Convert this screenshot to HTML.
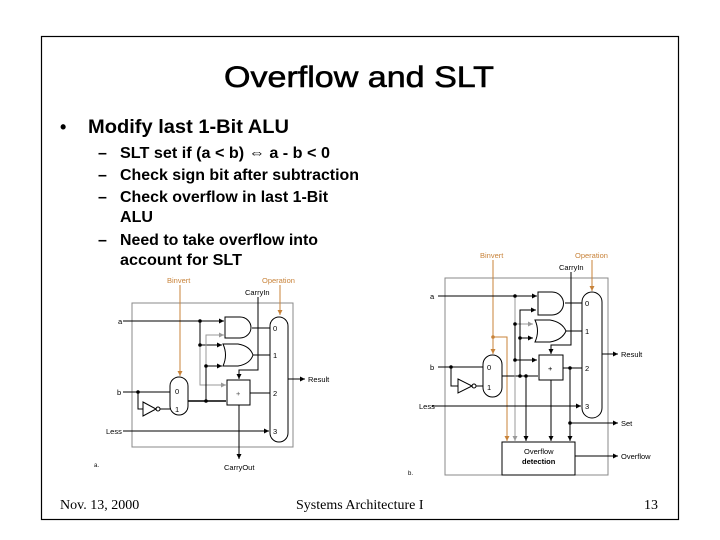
<!DOCTYPE html>
<html><head><meta charset="utf-8"><style>
body{margin:0;background:#fff;}
svg{display:block;}
</style></head><body>
<svg width="720" height="540" viewBox="0 0 720 540" xmlns="http://www.w3.org/2000/svg" font-family="Liberation Sans, sans-serif">
<defs>
<marker id="ar" markerWidth="6" markerHeight="6" refX="5" refY="3" orient="auto"><path d="M0,0.5 L5,3 L0,5.5z" fill="#000"/></marker>
<marker id="ao" markerWidth="6" markerHeight="6" refX="5" refY="3" orient="auto"><path d="M0,0.5 L5,3 L0,5.5z" fill="#c8833a"/></marker>
<marker id="ag" markerWidth="6" markerHeight="6" refX="5" refY="3" orient="auto"><path d="M0,0.5 L5,3 L0,5.5z" fill="#999"/></marker>
</defs>
<rect x="41.5" y="36.5" width="637" height="483" fill="none" stroke="#000" stroke-width="1.2"/>
<text x="224" y="87" font-size="30" textLength="270" lengthAdjust="spacingAndGlyphs" stroke="#000" stroke-width="0.6">Overflow and SLT</text>
<text x="60" y="133" font-size="18" font-weight="bold">•</text>
<text x="88" y="133" font-size="19.5" font-weight="bold" textLength="201" lengthAdjust="spacingAndGlyphs">Modify last 1-Bit ALU</text>
<g font-size="16" font-weight="bold">
<text x="98" y="158">–</text><text x="120" y="158" textLength="210" lengthAdjust="spacingAndGlyphs">SLT set if (a &lt; b) ⇔ a - b &lt; 0</text>
<text x="98" y="180">–</text><text x="120" y="180" textLength="239" lengthAdjust="spacingAndGlyphs">Check sign bit after subtraction</text>
<text x="98" y="202">–</text><text x="120" y="202" textLength="208" lengthAdjust="spacingAndGlyphs">Check overflow in last 1-Bit</text>
<text x="120" y="222" textLength="33" lengthAdjust="spacingAndGlyphs">ALU</text>
<text x="98" y="245">–</text><text x="120" y="245" textLength="198" lengthAdjust="spacingAndGlyphs">Need to take overflow into</text>
<text x="120" y="265" textLength="122" lengthAdjust="spacingAndGlyphs">account for SLT</text>
</g>
<g font-family="Liberation Serif, serif" font-size="14">
<text x="60" y="509">Nov. 13, 2000</text>
<text x="296" y="509">Systems Architecture I</text>
<text x="644" y="509">13</text>
</g>

<!-- LEFT DIAGRAM -->
<g stroke="#000" stroke-width="1" fill="none" font-size="7.5">
<rect x="132" y="303" width="161" height="144" stroke="#888"/>
<line x1="180" y1="285" x2="180" y2="376" stroke="#c8833a" marker-end="url(#ao)"/>
<line x1="280" y1="285" x2="280" y2="315" stroke="#c8833a" marker-end="url(#ao)"/>
<polyline points="258,297 258,370 239,370 239,379" marker-end="url(#ar)"/>
<line x1="123" y1="321" x2="224" y2="321" marker-end="url(#ar)"/>
<path d="M225,317 H240 A11,10.5 0 0 1 240,338 H225 Z"/>
<line x1="252" y1="328" x2="270" y2="328"/>
<path d="M223,344 H238 Q250,346 253,355 Q250,364 238,366 H223 Q228,355 223,344 Z"/>
<line x1="253" y1="355" x2="270" y2="355"/>
<rect x="227" y="380" width="23" height="25"/>
<line x1="250" y1="393" x2="270" y2="393"/>
<rect x="270" y="317" width="18" height="125" rx="9"/>
<line x1="288" y1="379" x2="305" y2="379" marker-end="url(#ar)"/>
<rect x="170" y="377" width="18" height="38" rx="9"/>
<line x1="123" y1="392" x2="170" y2="392"/>
<polyline points="138,392 138,409 143,409"/>
<path d="M143,402 L156,409 L143,416 Z"/>
<circle cx="158" cy="409" r="2"/>
<line x1="160" y1="409" x2="170" y2="409"/>
<line x1="188" y1="401" x2="226" y2="401" stroke-width="1.5"/>
<polyline points="200,321 200,345 222,345" marker-end="url(#ar)"/>
<polyline points="200,345 200,385 226,385" stroke="#999" marker-end="url(#ag)"/>
<polyline points="206,401 206,366 222,366" marker-end="url(#ar)"/>
<polyline points="206,366 206,335 224,335" stroke="#999" marker-end="url(#ag)"/>
<line x1="123" y1="431" x2="269" y2="431" marker-end="url(#ar)"/>
<line x1="239" y1="405" x2="239" y2="459" marker-end="url(#ar)"/>
<g fill="#000" stroke="none">
<circle cx="200" cy="321" r="1.8"/><circle cx="200" cy="345" r="1.8"/><circle cx="206" cy="366" r="1.8"/><circle cx="206" cy="401" r="1.8"/><circle cx="138" cy="392" r="1.8"/>
<text x="118" y="324">a</text><text x="117" y="395">b</text><text x="106" y="434">Less</text>
<text x="273" y="331">0</text><text x="273" y="358">1</text><text x="273" y="396">2</text><text x="273" y="434">3</text>
<text x="175" y="394">0</text><text x="175" y="412">1</text>
<text x="236" y="396" fill="#555">+</text>
<text x="308" y="382">Result</text>
<text x="245" y="295">CarryIn</text>
<text x="224" y="470">CarryOut</text>
<text x="94" y="467" font-size="6">a.</text>
<text x="167" y="283" fill="#c8833a">Binvert</text>
<text x="262" y="283" fill="#c8833a">Operation</text>
</g>
</g>

<!-- RIGHT DIAGRAM -->
<g stroke="#000" stroke-width="1" fill="none" font-size="7.5">
<rect x="445" y="278" width="163" height="197" stroke="#888"/>
<line x1="493" y1="260" x2="493" y2="354" stroke="#c8833a" marker-end="url(#ao)"/>
<polyline points="493,337 507,337 507,441" stroke="#c8833a" marker-end="url(#ao)"/>
<line x1="592" y1="260" x2="592" y2="291" stroke="#c8833a" marker-end="url(#ao)"/>
<polyline points="571,272 571,345 551,345 551,354" marker-end="url(#ar)"/>
<line x1="438" y1="296" x2="537" y2="296" marker-end="url(#ar)"/>
<path d="M538,292 H552 A11.5,11.5 0 0 1 552,315 H538 Z"/>
<line x1="565" y1="303" x2="582" y2="303"/>
<path d="M535,320 H550 Q562,322 566,331 Q562,340 550,342 H535 Q540,331 535,320 Z"/>
<line x1="566" y1="331" x2="582" y2="331"/>
<rect x="539" y="355" width="24" height="25"/>
<line x1="563" y1="368" x2="582" y2="368"/>
<rect x="582" y="292" width="20" height="126" rx="10"/>
<line x1="602" y1="354" x2="618" y2="354" marker-end="url(#ar)"/>
<rect x="483" y="355" width="19" height="42" rx="9.5"/>
<line x1="438" y1="367" x2="483" y2="367"/>
<polyline points="451,367 451,386 458,386"/>
<path d="M458,379 L472,386 L458,393 Z"/>
<circle cx="474" cy="386" r="2"/>
<line x1="476" y1="386" x2="483" y2="386"/>
<line x1="502" y1="376" x2="538" y2="376"/>
<polyline points="515,296 515,324 533,324" stroke="#999" marker-end="url(#ag)"/>
<polyline points="515,324 515,360 537,360" marker-end="url(#ar)"/>
<line x1="515" y1="360" x2="515" y2="441" stroke="#999" marker-end="url(#ag)"/>
<polyline points="520,376 520,310 536,310" marker-end="url(#ar)"/>
<line x1="520" y1="338" x2="533" y2="338" marker-end="url(#ar)"/>
<line x1="526" y1="376" x2="526" y2="441" marker-end="url(#ar)"/>
<line x1="551" y1="380" x2="551" y2="441" marker-end="url(#ar)"/>
<polyline points="570,368 570,441" marker-end="url(#ar)"/>
<line x1="432" y1="406" x2="581" y2="406" marker-end="url(#ar)"/>
<line x1="570" y1="423" x2="618" y2="423" marker-end="url(#ar)"/>
<rect x="502" y="442" width="73" height="33"/>
<line x1="575" y1="456" x2="618" y2="456" marker-end="url(#ar)"/>
<g fill="#000" stroke="none">
<circle cx="515" cy="296" r="1.8"/><circle cx="515" cy="324" r="1.8"/><circle cx="515" cy="360" r="1.8"/><circle cx="520" cy="338" r="1.8"/><circle cx="520" cy="376" r="1.8"/><circle cx="526" cy="376" r="1.8"/><circle cx="570" cy="368" r="1.8"/><circle cx="570" cy="423" r="1.8"/><circle cx="451" cy="367" r="1.8"/>
<circle cx="493" cy="337" r="1.8" fill="#c8833a"/>
<text x="430" y="299">a</text><text x="430" y="370">b</text><text x="419" y="409">Less</text>
<text x="585" y="306">0</text><text x="585" y="334">1</text><text x="585" y="371">2</text><text x="585" y="409">3</text>
<text x="487" y="370">0</text><text x="487" y="390">1</text>
<text x="548" y="371">+</text>
<text x="621" y="357">Result</text><text x="621" y="426">Set</text><text x="621" y="459">Overflow</text>
<text x="559" y="270">CarryIn</text>
<text x="524" y="454">Overflow</text><text x="522" y="464" font-weight="bold">detection</text>
<text x="408" y="475" font-size="6">b.</text>
<text x="480" y="258" fill="#c8833a">Binvert</text>
<text x="575" y="258" fill="#c8833a">Operation</text>
</g>
</g>
</svg>
</body></html>
